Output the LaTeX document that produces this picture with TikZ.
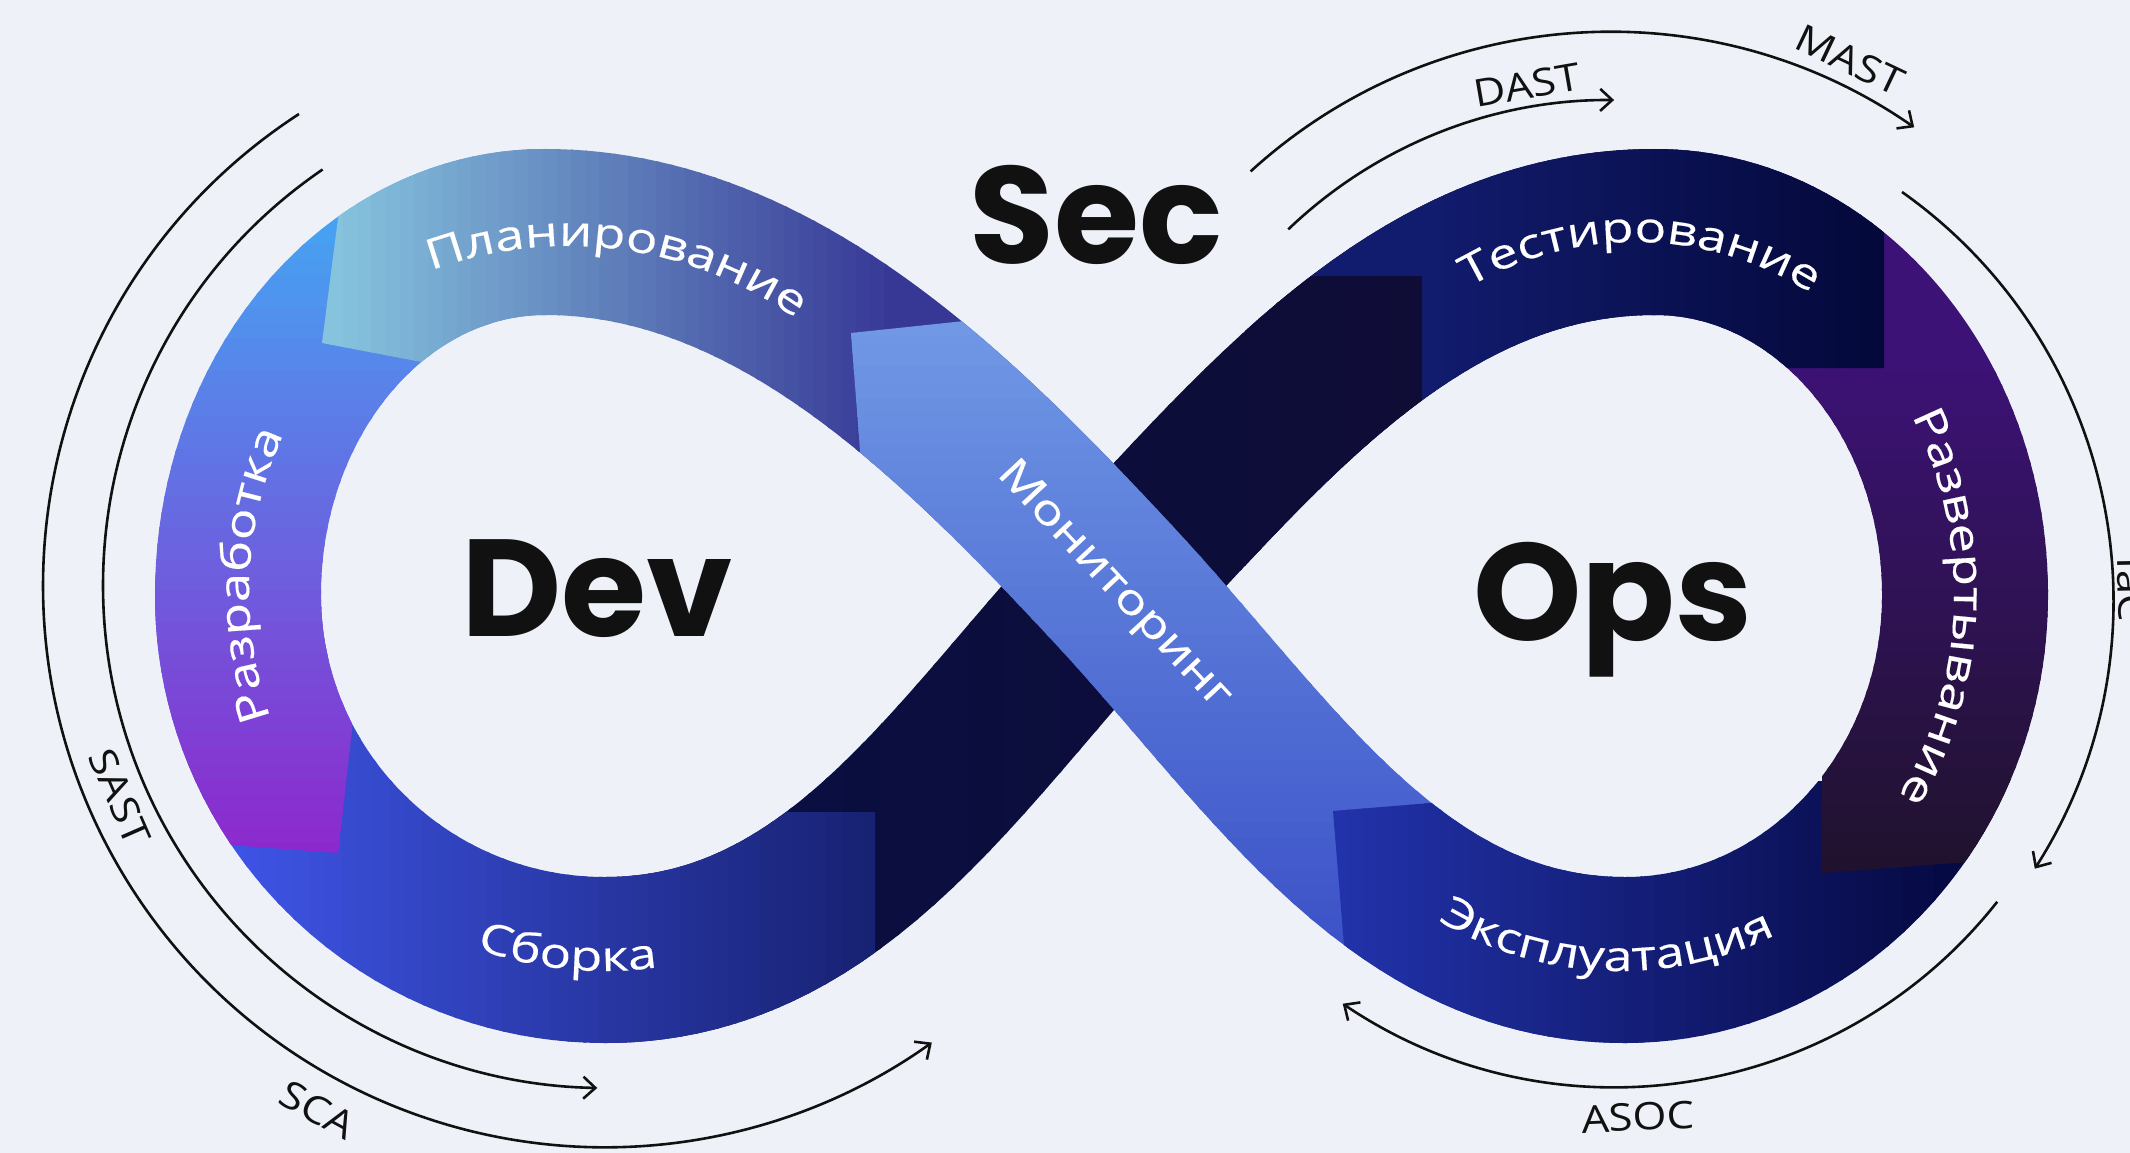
\documentclass[tikz,border=0pt]{standalone}
\usepackage{fontspec}
\usetikzlibrary{arrows.meta}
\newfontfamily\bigfont{Poppins}
\newfontfamily\lblfont{Open Sans}[FakeStretch=1.25,FakeBold=0.4]
\newfontfamily\outfont{Open Sans}[FakeStretch=1.15]
\newcommand\lblsize{\lblfont\fontsize{42}{42}\selectfont}
\definecolor{bgc}{RGB}{238,242,248}
\definecolor{ink}{RGB}{17,17,17}
\definecolor{darkA}{RGB}{9,14,66}
\definecolor{darkB}{RGB}{15,13,54}
\definecolor{buildA}{RGB}{62,84,230}
\definecolor{buildB}{RGB}{24,34,115}
\definecolor{devA}{RGB}{72,160,242}
\definecolor{devB}{RGB}{140,40,205}
\definecolor{planA}{RGB}{134,196,222}
\definecolor{planB}{RGB}{55,56,150}
\definecolor{monA}{RGB}{112,152,229}
\definecolor{monB}{RGB}{60,82,200}
\definecolor{opA}{RGB}{34,50,170}
\definecolor{opB}{RGB}{6,10,68}
\definecolor{depA}{RGB}{60,18,118}
\definecolor{depB}{RGB}{32,18,46}
\definecolor{testA}{RGB}{18,28,110}
\definecolor{testB}{RGB}{4,8,58}
\tikzset{
  bandline/.style={line width=166},
  bigword/.style={font=\bigfont\bfseries\fontsize{138}{138}\selectfont, text=ink, inner sep=0, anchor=base},
  outlbl/.style={font=\outfont\fontsize{38}{38}\selectfont, text=ink, inner sep=0},
  bandlbl/.style={font=\lblsize, text=white, inner sep=0, anchor=base},
  lblchar/.style={font=\lblsize, text=white, inner sep=0, anchor=base},
  arcline/.style={draw=ink, line width=2.6, -{Straight Barb[length=12pt,width=22pt]}}
}
% horizontal gradient stroke: #1 x0, #2 x1, #3 colour at x0, #4 colour at x1, #5 path
\newcommand\bandx[5]{%
  \foreach \i in {0,...,39}{%
    \pgfmathsetmacro{\gxa}{\i==0 ? -20 : #1+(#2-#1)/40*\i-1.5}%
    \pgfmathsetmacro{\gxb}{\i==39 ? 2150 : #1+(#2-#1)/40*(\i+1)+1.5}%
    \pgfmathtruncatemacro{\gpc}{round(100*\i/39)}%
    \begin{scope}
      \clip (\gxa,-20) rectangle (\gxb,1173);
      \draw[bandline, draw=#4!\gpc!#3] #5;
    \end{scope}}}
% vertical gradient stroke
\newcommand\bandy[5]{%
  \foreach \i in {0,...,39}{%
    \pgfmathsetmacro{\gya}{\i==0 ? -20 : #1+(#2-#1)/40*\i-1.5}%
    \pgfmathsetmacro{\gyb}{\i==39 ? 1173 : #1+(#2-#1)/40*(\i+1)+1.5}%
    \pgfmathtruncatemacro{\gpc}{round(100*\i/39)}%
    \begin{scope}
      \clip (-20,\gya) rectangle (2150,\gyb);
      \draw[bandline, draw=#4!\gpc!#3] #5;
    \end{scope}}}
% measure letters (outside the picture): #1 list macro, #2 letters
\newdimen\chw
\newcommand\prepwidths[2]{%
  \gdef#1{}%
  \foreach \ch in {#2}{%
    \settowidth{\chw}{\lblsize\ch}%
    \ifx#1\empty\xdef#1{\ch/\the\chw}\else\xdef#1{#1,\ch/\the\chw}\fi}}
\def\gtrk{0}
% text on a circular arc: #1 cx, #2 cy, #3 baseline radius, #4 centre angle,
% #5 +1 (angle grows, tops outward) / -1 (angle falls, tops inward), #6 name prefix, #7 list macro
\newcommand\arclabel[7]{%
  \gdef\gtotw{0}%
  \foreach \ch/\gw in #7{\pgfmathsetmacro{\gtmp}{\gtotw+\gw+\gtrk}\xdef\gtotw{\gtmp}}%
  \gdef\gcum{0}%
  \foreach \ch/\gw [count=\k] in #7{%
    \pgfmathsetmacro{\gsarc}{\gcum+(\gw+\gtrk)/2-\gtotw/2}%
    \pgfmathsetmacro{\gphi}{#4+(#5)*\gsarc/(#3)*57.29578}%
    \pgfmathsetmacro{\grot}{#5>0 ? -(\gphi+90) : 90-\gphi}%
    \node[lblchar, rotate=\grot] (#6\k) at ({#1+#3*cos(\gphi)},{#2+#3*sin(\gphi)}) {\ch};
    \pgfmathsetmacro{\gtmp}{\gcum+\gw+\gtrk}\xdef\gcum{\gtmp}}}
\begin{document}
\prepwidths\wpl{П,л,а,н,и,р,о,в,а,н,и,е}%
\prepwidths\wrz{Р,а,з,р,а,б,о,т,к,а}%
\prepwidths\wsb{С,б,о,р,к,а}%
\prepwidths\wts{Т,е,с,т,и,р,о,в,а,н,и,е}%
\prepwidths\wrv{Р,а,з,в,е,р,т,ы,в,а,н,и,е}%
\prepwidths\wex{Э,к,с,п,л,у,а,т,а,ц,и,я}%
\begin{tikzpicture}[x=1pt,y=-1pt]
\useasboundingbox (0,0) rectangle (2130,1153);
\clip (0,0) rectangle (2130,1153);
\fill[bgc] (0,0) rectangle (2130,1153);

% dark strand (under everything)
\bandx{700}{1422}{darkA}{darkB}{(605,960) .. controls (835,960) and (957.6,752.9) .. (1114,585) .. controls (1270.4,417) and (1425,232) .. (1655,232)}

% build
\begin{scope}
\clip (0,600) -- (700,600) -- (700,812) -- (875,812) -- (875,1153) -- (0,1153) -- cycle;
\bandx{230}{875}{buildA}{buildB}{(238,595) .. controls (238,797) and (402,960) .. (605,960) .. controls (835,960) and (957.6,752.9) .. (1114,585)}
\end{scope}

% dev
\begin{scope}
\clip (0,0) -- (800,0) -- (800,650) -- (361,650) -- (338,853) -- (0,828) -- cycle;
\bandy{230}{860}{devA}{devB}{(545,232) .. controls (375.5,232) and (238,394.6) .. (238,595) .. controls (238,797) and (402,960) .. (605,960)}
\end{scope}

% plan
\begin{scope}
\clip (366,0) -- (1300,0) -- (1300,700) -- (700,415) -- (322,343) -- cycle;
\bandx{330}{900}{planA}{planB}{(1114,585) .. controls (957.6,417) and (775,232) .. (545,232) .. controls (375.5,232) and (238,394.6) .. (238,595)}
\end{scope}

% monitoring
\begin{scope}
\clip (851,333) -- (1200,296) -- (2130,296) -- (2130,1153) -- (914,1153) -- cycle;
\bandy{321}{950}{monA}{monB}{(1625,960) .. controls (1395,960) and (1270.4,752.9) .. (1114,585) .. controls (957.6,417) and (775,232) .. (545,232)}
\end{scope}

% operation
\begin{scope}
\clip (1333,811) -- (1700,781) -- (2130,781) -- (2130,1153) -- (1361,1153) -- cycle;
\bandx{1333}{1950}{opA}{opB}{(1965,595) .. controls (1965,797) and (1813,960) .. (1625,960) .. controls (1395,960) and (1270.4,752.9) .. (1114,585)}
\end{scope}

% deploy
\begin{scope}
\clip (1600,0) -- (2130,0) -- (2130,850) -- (1955,863) -- (1822,873) -- (1822,700) -- (1600,700) -- cycle;
\bandy{360}{870}{depA}{depB}{(1655,232) .. controls (1826,232) and (1965,395) .. (1965,595) .. controls (1965,797) and (1813,960) .. (1625,960)}
\end{scope}

% test
\begin{scope}
\clip (1245,0) -- (1884,0) -- (1884,368) -- (1550,368) -- (1550,700) -- (1245,700) -- cycle;
\bandx{1422}{1884}{testA}{testB}{(1114,585) .. controls (1270.4,417) and (1425,232) .. (1655,232) .. controls (1826,232) and (1965,395) .. (1965,595)}
\end{scope}

% end of dark strand over test
\begin{scope}
\clip (1245,276) rectangle (1422,700);
\bandx{700}{1422}{darkA}{darkB}{(1114,585) .. controls (1270.4,417) and (1425,232) .. (1655,232)}
\end{scope}

% band labels
\arclabel{568}{640}{394}{-82.5}{1}{pl}{\wpl}
\arclabel{628}{592}{379}{182.6}{1}{rz}{\wrz}
\arclabel{604}{600}{371}{95.9}{-1}{sb}{\wsb}
\node[bandlbl, rotate=-47] (monit) at (1106,592.5) {Мониторинг};
\arclabel{1635}{570}{328}{-89}{1}{ts}{\wts}
\arclabel{1557}{594}{397}{2}{1}{rv}{\wrv}
\arclabel{1620}{620}{351}{92.4}{-1}{ex}{\wex}

% big words
\node[bigword] (sec) at (1096,263) {Sec};
\node[bigword] (dev) at (597,636) {Dev};
\node[bigword] (ops) at (1613,640) {Ops};

% outer arcs
\coordinate (scaS) at (299,114);
\draw[arcline] (scaS) arc[start angle=237, end angle=54.45, radius=562];
\coordinate (sastS) at (322.6,169.5);
\draw[arcline] (sastS) arc[start angle=235.7, end angle=91, radius=503];
\coordinate (dastS) at (1288.2,229.4);
\draw[arcline] (dastS) arc[start angle=226.2, end angle=270.5, radius=465];
\coordinate (mastS) at (1250.6,171.4);
\draw[arcline] (mastS) arc[start angle=227.6, end angle=304.8, radius=533];
\coordinate (iacS) at (1902,192);
\draw[arcline] (iacS) arc[start angle=305.3, end angle=392.5, radius=500];
\coordinate (asocS) at (1997.2,901.8);
\draw[arcline] (asocS) arc[start angle=38.3, end angle=124, radius=487];

% outer labels
\node[outlbl, rotate=-66.4] (sast) at (120,797) {SAST};
\node[outlbl, rotate=-28.7] (sca) at (318,1110) {SCA};
\node[outlbl, rotate=9.8] (dast) at (1527,85) {DAST};
\node[outlbl, rotate=-25.4] (mast) at (1850,60) {MAST};
\node[outlbl, rotate=2.5] (asoc) at (1638,1117) {ASOC};
\node[outlbl, rotate=-88.9, anchor=base] (iac) at (2118,590) {IaC};
\end{tikzpicture}
\end{document}
